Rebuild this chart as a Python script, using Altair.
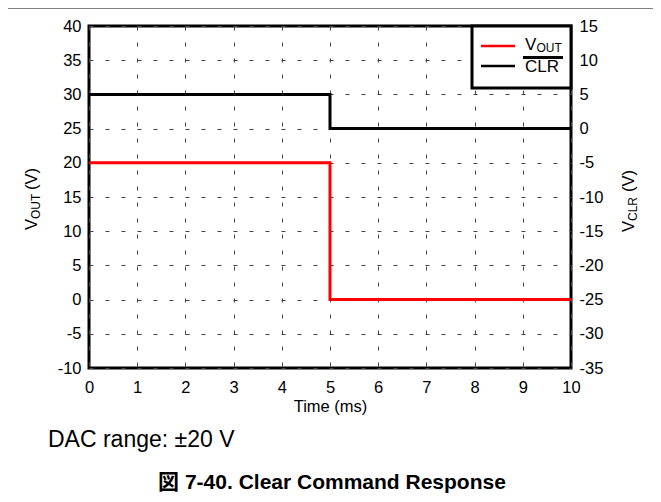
import altair as alt
import pandas as pd

# ---- data ----
vout_time_ms = [0, 5, 5, 10]
vout_volts = [20, 20, 0, 0]
clr_time_ms = [0, 5, 5, 10]
clr_volts = [5, 5, 0, 0]
x_ticks = [0, 1, 2, 3, 4, 5, 6, 7, 8, 9, 10]
left_ticks = [-10, -5, 0, 5, 10, 15, 20, 25, 30, 35, 40]
right_ticks = [-35, -30, -25, -20, -15, -10, -5, 0, 5, 10, 15]
x_title = "Time (ms)"
note_text = "DAC range: ±20 V"
caption_text = "図 7-40. Clear Command Response"

FONT = "Liberation Sans, Arial, Helvetica, Noto Sans CJK JP, sans-serif"
W, H = 482, 342
LBL = "datum.value < 0 ? '-' + abs(datum.value) : '' + datum.value"

vout_df = pd.DataFrame({"t": vout_time_ms, "v": vout_volts, "o": list(range(len(vout_volts)))})
clr_df = pd.DataFrame({"t": clr_time_ms, "v": clr_volts, "o": list(range(len(clr_volts)))})
one = pd.DataFrame({"a": [0]})

x_axis = alt.Axis(values=x_ticks, title=x_title, grid=True, ticks=False, domain=False,
                  labelPadding=11, titlePadding=3, labelExpr=LBL, labelFlush=False)
x_scale = alt.Scale(domain=[0, 10], nice=False, zero=False)

vout = alt.Chart(vout_df).mark_line(color="#ff0000", strokeWidth=3).encode(
    x=alt.X("t:Q", scale=x_scale, axis=x_axis),
    y=alt.Y("v:Q", scale=alt.Scale(domain=[-10, 40], nice=False, zero=False),
            axis=alt.Axis(values=left_ticks, title=None, grid=True, ticks=False, domain=False,
                          labelPadding=8, labelExpr=LBL, labelFlush=False)),
    order="o:O",
)

clr = alt.Chart(clr_df).mark_line(color="black", strokeWidth=3).encode(
    x=alt.X("t:Q", scale=x_scale, axis=x_axis),
    y=alt.Y("v:Q", scale=alt.Scale(domain=[-35, 15], nice=False, zero=False),
            axis=alt.Axis(orient="right", values=right_ticks, title=None, grid=False, ticks=False,
                          domain=False, labelPadding=8, labelExpr=LBL, labelFlush=False)),
    order="o:O",
)

# legend box
leg_box = alt.Chart(one).mark_rect(fill="white", stroke="black", strokeWidth=3).encode(
    x=alt.value(383), x2=alt.value(482), y=alt.value(0), y2=alt.value(62))
leg_red = alt.Chart(one).mark_rule(color="#ff0000", strokeWidth=2.5).encode(
    x=alt.value(392), x2=alt.value(426), y=alt.value(20))
leg_blk = alt.Chart(one).mark_rule(color="black", strokeWidth=2.5).encode(
    x=alt.value(392), x2=alt.value(426), y=alt.value(40))
leg_bar = alt.Chart(one).mark_rule(color="black", strokeWidth=3).encode(
    x=alt.value(434), x2=alt.value(474), y=alt.value(31.5))


def txt(s, x, y, size, angle=0, weight="normal", align="left"):
    return alt.Chart(one).mark_text(
        font=FONT, fontSize=size, fontWeight=weight, align=align, baseline="alphabetic",
        angle=angle, color="black"
    ).encode(x=alt.value(x), y=alt.value(y), text=alt.value(s))


texts = [
    txt("V", 436, 24, 17),
    txt("OUT", 447.5, 25.5, 12),
    txt("CLR", 436, 46, 17),
    # left axis title
    txt("V", -52, 204, 16.5, angle=270),
    txt("OUT", -49.5, 193, 12, angle=270),
    txt("(V)", -52, 164, 16.5, angle=270),
    # right axis title
    txt("V", 545, 206, 16.5, angle=270),
    txt("CLR", 547.5, 195, 12, angle=270),
    txt("(V)", 545, 166, 16.5, angle=270),
    # notes
    txt(note_text, -41, 421, 23),
    txt(caption_text, 243, 463, 21, weight="bold", align="center"),
]

top_line = alt.Chart(one).mark_rule(color="#808080", strokeWidth=2).encode(
    x=alt.value(-81), x2=alt.value(564), y=alt.value(-18))

base = alt.layer(vout, clr).resolve_scale(y="independent")

chart = alt.layer(base, leg_box, leg_red, leg_blk, leg_bar, *texts, top_line).properties(
    width=W, height=H,
    autosize=alt.AutoSizeParams(type="none"),
    padding={"left": 81, "top": 18, "right": 82, "bottom": 126},
).configure_view(
    stroke="black", strokeWidth=3
).configure_axis(
    labelFont=FONT, labelFontSize=16.5, labelColor="black",
    titleFont=FONT, titleFontSize=16.5, titleFontWeight="normal", titleColor="black",
    gridColor="#444444", gridDash=[4, 12], gridWidth=1, gridOpacity=1,
)

chart.save("out.html", embed_options={"renderer": "svg", "actions": False})
